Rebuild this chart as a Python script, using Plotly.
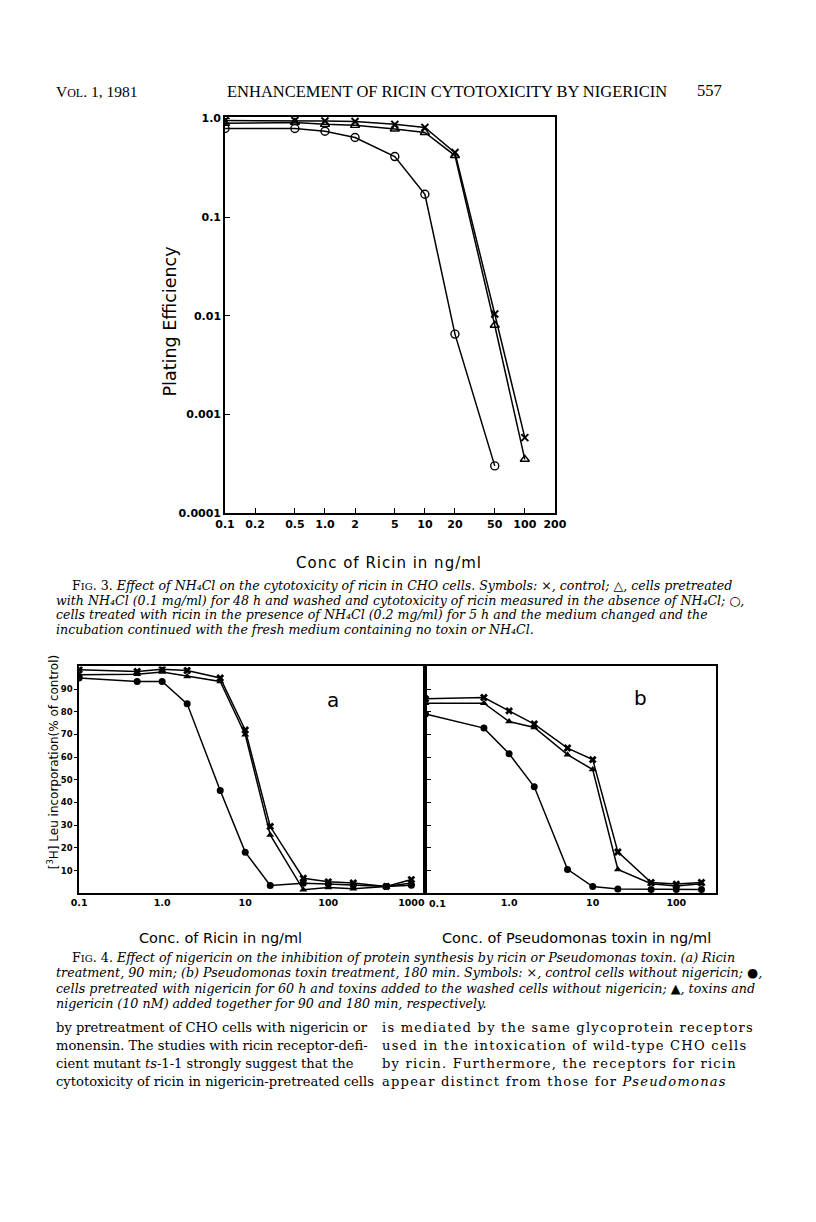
import plotly.graph_objects as go
import math

# ---------------- DATA ----------------
# Fig. 3
f3_x = [0.1, 0.5, 1.0, 2, 5, 10, 20, 50, 100]
f3_control = [0.95, 0.95, 0.94, 0.93, 0.87, 0.81, 0.45, 0.0104, 0.00058]
f3_nh4_pre = [0.89, 0.91, 0.87, 0.85, 0.78, 0.72, 0.42, 0.0080, 0.00035]
f3_nh4_with_x = [0.1, 0.5, 1.0, 2, 5, 10, 20, 50]
f3_nh4_with = [0.79, 0.79, 0.74, 0.64, 0.41, 0.17, 0.0065, 0.0003]
f3_xticks = [0.1, 0.2, 0.5, 1, 2, 5, 10, 20, 50, 100, 200]
f3_xticktext = ["0.1", "0.2", "0.5", "1.0", "2", "5", "10", "20", "50", "100", "200"]
f3_yticks = [1, 0.1, 0.01, 0.001, 0.0001]
f3_yticktext = ["1.0", "0.1", "0.01", "0.001", "0.0001"]

# Fig. 4a (ricin)
f4a_x = [0.1, 0.5, 1.0, 2, 5, 10, 20, 50, 100, 200, 500, 1000]
f4a_control = [98.5, 97.8, 98.8, 98.2, 94.9, 72.0, 29.4, 6.6, 5.0, 4.5, 3.0, 6.0]
f4a_pre = [94.9, 93.4, 93.4, 83.5, 45.3, 18.1, 3.4, 4.4, 4.0, 3.5, 3.0, 3.5]
f4a_together = [96.3, 96.6, 97.5, 95.6, 93.4, 69.9, 25.7, 1.5, 2.5, 2.0, 3.0, 4.5]
f4a_xticks = [0.1, 1, 10, 100, 1000]
f4a_xticktext = ["0.1", "1.0", "10", "100", "1000"]

# Fig. 4b (Pseudomonas toxin)
f4b_x = [0.1, 0.5, 1.0, 2, 5, 10, 20, 50, 100, 200]
f4b_control = [85.7, 86.3, 80.4, 74.6, 64.0, 58.9, 18.2, 4.7, 4.0, 4.7]
f4b_pre = [79.0, 72.8, 61.5, 46.9, 10.5, 2.9, 1.8, 1.6, 1.6, 1.6]
f4b_together = [83.8, 83.8, 75.7, 73.1, 61.1, 54.5, 10.5, 4.2, 3.2, 4.2]
f4b_xticks = [1, 10, 100]
f4b_xticktext = ["1.0", "10", "100"]
f4b_first_label = "0.1"   # drawn just right of the shared border

f4_yticks = [10, 20, 30, 40, 50, 60, 70, 80, 90]

# ---------------- LAYOUT HELPERS ----------------
W, H = 816, 1222


def fx(p):
    return p / W


def fy(p):
    return 1 - p / H


SERIF = "DejaVu Serif, Liberation Serif, serif"
HEAD = "Liberation Serif, serif"
SANS = "DejaVu Sans, Liberation Sans, sans-serif"

fig = go.Figure()

line_style = dict(color="black", width=1.5)

# Fig 3 traces
fig.add_trace(go.Scatter(x=f3_x, y=f3_control, mode="lines+markers", line=line_style,
                         marker=dict(symbol="x-thin", size=7, line=dict(color="black", width=2)),
                         xaxis="x", yaxis="y", showlegend=False))
fig.add_trace(go.Scatter(x=f3_x, y=f3_nh4_pre, mode="lines+markers", line=line_style,
                         marker=dict(symbol="triangle-up-open", size=8, color="black",
                                     line=dict(color="black", width=1.4)),
                         xaxis="x", yaxis="y", showlegend=False))
fig.add_trace(go.Scatter(x=f3_nh4_with_x, y=f3_nh4_with, mode="lines+markers", line=line_style,
                         marker=dict(symbol="circle-open", size=8, color="black",
                                     line=dict(color="black", width=1.4)),
                         xaxis="x", yaxis="y", showlegend=False))

# Fig 4 traces
for xs, ys_c, ys_p, ys_t, xa, ya in [
    (f4a_x, f4a_control, f4a_pre, f4a_together, "x2", "y2"),
    (f4b_x, f4b_control, f4b_pre, f4b_together, "x3", "y3"),
]:
    fig.add_trace(go.Scatter(x=xs, y=ys_c, mode="lines+markers", line=line_style,
                             marker=dict(symbol="x", size=7, color="black"),
                             xaxis=xa, yaxis=ya, showlegend=False))
    fig.add_trace(go.Scatter(x=xs, y=ys_p, mode="lines+markers", line=line_style,
                             marker=dict(symbol="circle", size=7, color="black"),
                             xaxis=xa, yaxis=ya, showlegend=False))
    fig.add_trace(go.Scatter(x=xs, y=ys_t, mode="lines+markers", line=line_style,
                             marker=dict(symbol="triangle-up", size=7, color="black"),
                             xaxis=xa, yaxis=ya, showlegend=False))

axis_common = dict(showline=True, mirror=True, linecolor="black", linewidth=1.6,
                   showgrid=False, zeroline=False, tickcolor="black")
tickfont3 = dict(family=SANS, size=11, color="black", weight="bold")
tickfont4 = dict(family=SANS, size=9.5, color="black", weight="bold")

F3_L, F3_R, F3_T, F3_B = 221, 560, 113, 513
F4_L, F4_M, F4_R, F4_T, F4_B = 71, 427, 726, 668, 897

fig.update_layout(
    width=W, height=H, margin=dict(l=0, r=0, t=0, b=0),
    paper_bgcolor="white", plot_bgcolor="white",
    xaxis=dict(type="log", range=[-1, math.log10(200)], domain=[fx(F3_L), fx(F3_R)], anchor="y",
               tickvals=f3_xticks, ticktext=f3_xticktext, ticks="inside", ticklen=5,
               tickfont=tickfont3, **axis_common),
    yaxis=dict(type="log", range=[-4, 0.015], domain=[fy(F3_B), fy(F3_T)], anchor="x",
               tickvals=f3_yticks, ticktext=f3_yticktext, ticks="inside", ticklen=5,
               tickfont=tickfont3, **axis_common),
    xaxis2=dict(type="log", range=[-1, 3.17], domain=[fx(F4_L), fx(F4_M)], anchor="y2",
                tickvals=f4a_xticks, ticktext=f4a_xticktext, ticks="",
                tickfont=tickfont4, **axis_common),
    yaxis2=dict(range=[0, 100], domain=[fy(F4_B), fy(F4_T)], anchor="x2",
                tickvals=f4_yticks, ticks="outside", ticklen=3,
                tickfont=dict(family=SANS, size=8.5, color="black", weight="bold"), **axis_common),
    xaxis3=dict(type="log", range=[-1, 2.48], domain=[fx(F4_M), fx(F4_R)], anchor="y3",
                tickvals=f4b_xticks, ticktext=f4b_xticktext, ticks="",
                tickfont=tickfont4, **axis_common),
    yaxis3=dict(range=[0, 100], domain=[fy(F4_B), fy(F4_T)], anchor="x3",
                tickvals=f4_yticks, ticks="inside", ticklen=6, showticklabels=False,
                **axis_common),
)

ann = []


def text(x, y, s, size=13, family=SERIF, xanchor="left", italic=False, angle=0, weight="normal"):
    ann.append(dict(x=fx(x), y=fy(y), xref="paper", yref="paper", text=s, showarrow=False,
                    xanchor=xanchor, yanchor="middle", textangle=angle,
                    font=dict(family=family, size=size, color="black",
                              style="italic" if italic else "normal", weight=weight)))


# Header
text(45, 87, "V<span style='font-size:12px'>OL</span>. 1, 1981", size=15.5, family=HEAD)
text(449.5, 87, "ENHANCEMENT OF RICIN CYTOTOXICITY BY NIGERICIN", size=16.5, family=HEAD,
     xanchor="center")
text(734, 86, "557", size=16.5, family=HEAD, xanchor="right")

# Fig 3 axis titles
text(164, 320, "Plating Efficiency", size=17.5, family=SANS, xanchor="center", angle=-90)
text(390, 564, "<span style='letter-spacing:1px'>Conc of Ricin in ng/ml</span>", size=15,
     family=SANS, xanchor="center")

# Fig 3 caption
cap3 = [
    "F<span style='font-size:10px'>IG</span>. 3. <i>Effect of NH\u2084Cl on the cytotoxicity of ricin in CHO cells. Symbols: ×, control; △, cells pretreated</i>",
    "<i>with NH\u2084Cl (0.1 mg/ml) for 48 h and washed and cytotoxicity of ricin measured in the absence of NH\u2084Cl; ○,</i>",
    "<i>cells treated with ricin in the presence of NH\u2084Cl (0.2 mg/ml) for 5 h and the medium changed and the</i>",
    "<i>incubation continued with the fresh medium containing no toxin or NH\u2084Cl.</i>",
]
for i, s in enumerate(cap3):
    text(45 if i else 62, 586 + 15 * i, s, size=12.6)

# Fig 4 axis titles
text(45, 765, "[<sup>3</sup>H] Leu incorporation(% of control)", size=12, family=SANS,
     xanchor="center", angle=-90)
text(216, 942, "Conc. of Ricin in ng/ml", size=14.5, family=SANS, xanchor="center")
text(582, 942, "Conc. of Pseudomonas toxin in ng/ml", size=14.5, family=SANS, xanchor="center")
text(332, 702, "a", size=20, family=SANS, xanchor="center")
text(648, 700, "b", size=20, family=SANS, xanchor="center")
# first tick label of panel b, just right of the shared border
ann.append(dict(x=fx(F4_M + 2), y=fy(F4_B + 10), xref="paper", yref="paper", text=f4b_first_label,
                showarrow=False, xanchor="left", yanchor="middle",
                font=dict(family=SANS, size=9.5, color="black", weight="bold")))

# Fig 4 caption
cap4 = [
    "F<span style='font-size:10px'>IG</span>. 4. <i>Effect of nigericin on the inhibition of protein synthesis by ricin or Pseudomonas toxin. (a) Ricin</i>",
    "<i>treatment, 90 min; (b) Pseudomonas toxin treatment, 180 min. Symbols: ×, control cells without nigericin; ●,</i>",
    "<i>cells pretreated with nigericin for 60 h and toxins added to the washed cells without nigericin; ▲, toxins and</i>",
    "<i>nigericin (10 nM) added together for 90 and 180 min, respectively.</i>",
]
for i, s in enumerate(cap4):
    text(45 if i else 62, 962 + 15.5 * i, s, size=12.7)

# Body text
left = [
    "by pretreatment of CHO cells with nigericin or",
    "monensin. The studies with ricin receptor-defi-",
    "cient mutant <i>ts</i>-1-1 strongly suggest that the",
    "cytotoxicity of ricin in nigericin-pretreated cells",
]
right = [
    "is mediated by the same glycoprotein receptors",
    "used in the intoxication of wild-type CHO cells",
    "by ricin. Furthermore, the receptors for ricin",
    "appear distinct from those for <i>Pseudomonas</i>",
]
for i, s in enumerate(left):
    text(45, 1033 + 18 * i, s, size=13.1)
for i, s in enumerate(right):
    text(380, 1033 + 18 * i, "<span style='letter-spacing:1.2px'>" + s + "</span>", size=13.1)

fig.update_layout(annotations=ann)
fig.write_html(
    "out.html",
    config={"displayModeBar": False},
    post_script="document.body.style.margin='0px';document.body.style.overflow='hidden';"
                "document.documentElement.style.overflow='hidden';",
)
